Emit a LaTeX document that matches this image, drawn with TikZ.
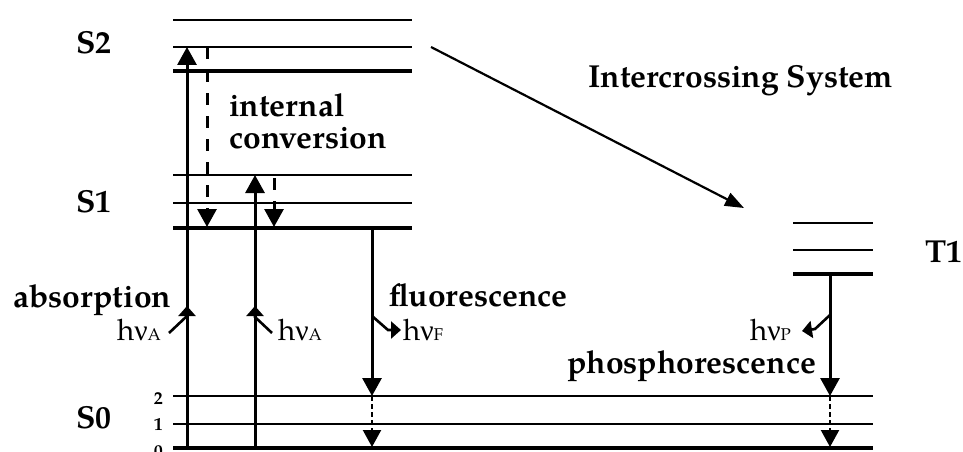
\documentclass[tikz,border=0pt]{standalone}
\usepackage{fontspec}
\setmainfont{TeX Gyre Pagella}
\newfontfamily\grk{Liberation Serif}
\usetikzlibrary{arrows.meta}
\begin{document}
\begin{tikzpicture}[x=1pt,y=-1pt,
  lvl/.style={line width=1.4pt},
  lvlthick/.style={line width=4pt},
  bigtip/.style={-{Triangle[width=19pt,length=18pt]}},
  solidarrow/.style={bigtip,line width=3pt},
  dasharrow/.style={bigtip,line width=3pt,dash pattern=on 12pt off 11pt},
  dotarrow/.style={-{Triangle[width=18pt,length=17pt]},line width=2.2pt,dash pattern=on 5pt off 3pt},
  photon/.style={-{Triangle[width=17pt,length=10pt]},line width=2.6pt,line join=miter},
  iscarrow/.style={-{Triangle[width=14pt,length=19pt]},line width=2.2pt},
  bigtxt/.style={font=\fontsize{31.8}{34}\selectfont\bfseries,inner sep=0pt},
  hvtxt/.style={font=\fontsize{29.5}{31}\selectfont,inner sep=0pt},
  numtxt/.style={font=\fontsize{18}{18}\selectfont\bfseries,inner sep=0pt}]
\useasboundingbox (0,0) rectangle (963,452);
\fill[white] (0,0) rectangle (963,452);
% ---- S2 levels
\draw[lvl] (173,20) -- (412,20);
\draw[lvl] (173,47) -- (412,47);
\draw[lvlthick] (173,71) -- (412,71);
% ---- S1 levels
\draw[lvl] (173,175) -- (412,175);
\draw[lvl] (173,203) -- (412,203);
\draw[lvlthick] (173,228) -- (412,228);
% ---- S0 levels
\draw[lvl] (173,396) -- (873,396);
\draw[lvl] (173,424) -- (873,424);
\draw[lvlthick] (173,448) -- (873,448);
% ---- T1 levels
\draw[lvl] (793,223) -- (873,223);
\draw[lvl] (793,250) -- (873,250);
\draw[lvlthick] (793,274) -- (873,274);
% ---- named points
\coordinate (a1s) at (187,448); \coordinate (a1e) at (187,47);
\coordinate (d1s) at (207,47);  \coordinate (d1e) at (207,227);
\coordinate (a2s) at (255,448); \coordinate (a2e) at (255,175);
\coordinate (d2s) at (274,178); \coordinate (d2e) at (274,227);
\coordinate (fs) at (372,228);  \coordinate (fm) at (372,396); \coordinate (fe) at (372,447);
\coordinate (ps) at (830,274);  \coordinate (pm) at (830,396); \coordinate (pe) at (830,447);
\coordinate (is) at (431,47);   \coordinate (ie) at (744,208);
% ---- transitions
\draw[solidarrow] (a1s) -- (a1e);
\draw[dasharrow] (d1s) -- (d1e);
\draw[solidarrow] (a2s) -- (a2e);
\draw[dasharrow] (d2s) -- (d2e);
\draw[solidarrow] (fs) -- (fm);
\draw[dotarrow] (fm) -- (fe);
\draw[solidarrow] (ps) -- (pm);
\draw[dotarrow] (pm) -- (pe);
\draw[iscarrow] (is) -- (ie);
% ---- photon markers
\draw[photon] (169,333) -- (187,316) -- (187,306);
\draw[photon] (272,333) -- (255,317) -- (255,306);
\draw[photon] (372,316) -- (388,330) -- (401,330);
\draw[photon] (830,315) -- (815,329) -- (802,331);
% ---- labels
\node[bigtxt,anchor=base west] (lS2) at (76,53) {S2};
\node[bigtxt,anchor=base west] (lS1) at (76,212) {S1};
\node[bigtxt,anchor=base west] (lS0) at (76,428) {S0};
\node[bigtxt,anchor=base west] (lT1) at (925,262) {T1};
\node[bigtxt,anchor=base west] (lint) at (229,116) {internal};
\node[bigtxt,anchor=base west] (lconv) at (229,148) {conversion};
\node[bigtxt,anchor=base west] (lisc) at (588,87) {Intercrossing System};
\node[bigtxt,anchor=base west] (labs) at (13,307) {absorption};
\node[bigtxt,anchor=base west] (lflu) at (389,306) {fluorescence};
\node[bigtxt,anchor=base west] (lpho) at (567,373) {phosphorescence};
\node[hvtxt,anchor=base west] (hA1) at (117,340) {h{\grk ν}{\fontsize{17}{17}\selectfont A}};
\node[hvtxt,anchor=base west] (hA2) at (278,340) {h{\grk ν}{\fontsize{17}{17}\selectfont A}};
\node[hvtxt,anchor=base west] (hF) at (403,340) {h{\grk ν}{\fontsize{17}{17}\selectfont F}};
\node[hvtxt,anchor=base west] (hP) at (750,340) {h{\grk ν}{\fontsize{17}{17}\selectfont P}};
\node[numtxt,anchor=base east] (n2) at (163,404) {2};
\node[numtxt,anchor=base east] (n1) at (163,430) {1};
\node[numtxt,anchor=base east] (n0) at (163,457) {0};
\end{tikzpicture}
\end{document}
